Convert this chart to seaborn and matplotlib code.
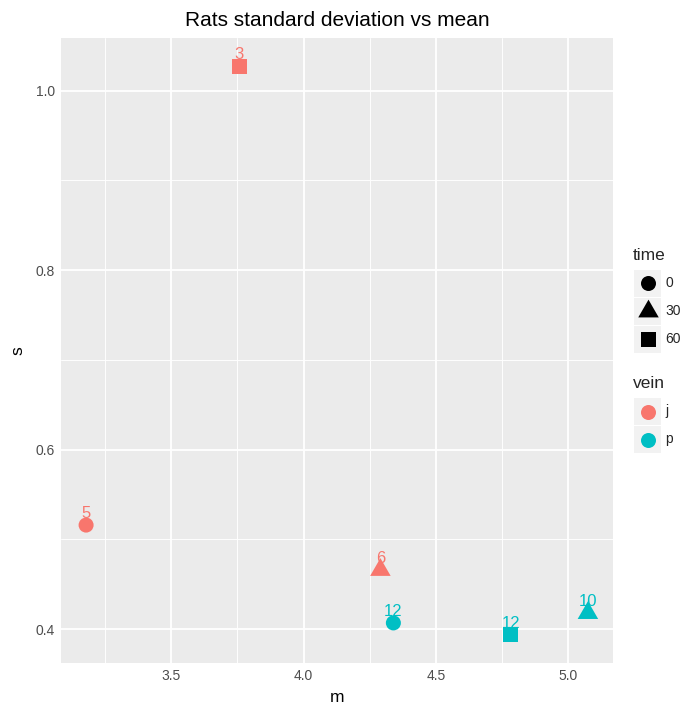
import matplotlib
matplotlib.use("Agg")
import matplotlib.pyplot as plt
from matplotlib.lines import Line2D
from matplotlib.patches import Rectangle
import seaborn as sns
import pandas as pd

# Group summaries: mean (m) and standard deviation (s) per vein/time, with group size n
vein = ["j", "j", "j", "p", "p", "p"]
time = [0, 30, 60, 0, 30, 60]
m = [3.178, 4.290, 3.757, 4.339, 5.074, 4.783]
s = [0.516, 0.466, 1.027, 0.407, 0.418, 0.394]
n = [5, 6, 3, 12, 10, 12]

vein_levels = ["j", "p"]
time_levels = [0, 30, 60]
vein_colors = {"j": "#F8766D", "p": "#00BFC4"}

df = pd.DataFrame({"vein": vein, "time": time, "m": m, "s": s, "n": n})

sns.set_style("white")
plt.rcParams["font.family"] = ["Liberation Sans", "DejaVu Sans"]

W, H = 694, 704
fig = plt.figure(figsize=(W / 100, H / 100), dpi=100)
L, R, T, B = 61, 613, 38, 663
ax = fig.add_axes([L / W, 1 - B / H, (R - L) / W, (B - T) / H])

tri = [(0, 1), (-0.866, -0.5), (0.866, -0.5)]
shape_map = {0: "o", 30: tri, 60: "s"}
size_map = {0: 117, 30: 291, 60: 117}

sns.scatterplot(data=df, x="m", y="s", hue="vein", style="time", size="time",
                palette=vein_colors, markers=shape_map, sizes=size_map,
                hue_order=vein_levels, style_order=time_levels, size_order=time_levels,
                linewidth=0, legend=False, ax=ax, zorder=3)

for xi, yi, ni, vi in zip(m, s, n, vein):
    ax.annotate(str(ni), (xi, yi), xytext=(0, 5), textcoords="offset points",
                ha="center", va="baseline", color=vein_colors[vi], fontsize=12, zorder=4)

ax.margins(0.05)
ax.set_facecolor("#EBEBEB")
for sp in ax.spines.values():
    sp.set_visible(False)

ax.set_xticks([3.5, 4.0, 4.5, 5.0])
ax.set_xticks([3.25, 3.75, 4.25, 4.75], minor=True)
ax.set_yticks([0.4, 0.6, 0.8, 1.0])
ax.set_yticks([0.5, 0.7, 0.9], minor=True)
ax.set_xticklabels(["3.5", "4.0", "4.5", "5.0"])
ax.set_yticklabels(["0.4", "0.6", "0.8", "1.0"])
ax.grid(True, which="major", color="white", linewidth=1.3)
ax.grid(True, which="minor", color="white", linewidth=0.65)
ax.set_axisbelow(True)
ax.tick_params(which="major", length=2.9, width=0.8, color="#333333",
               labelsize=10, labelcolor="#4D4D4D", pad=1.5)
ax.tick_params(which="minor", length=0)

ax.set_xlabel("m", fontsize=12.5, color="black")
ax.set_ylabel("s", fontsize=12.5, color="black")
ax.xaxis.set_label_coords(0.5, (B - 697) / (B - T))
ax.xaxis.label.set_va("center")
ax.yaxis.set_label_coords((18 - L) / (R - L), 0.5)
ax.yaxis.label.set_va("center")
ax.yaxis.label.set_ha("center")

fig.text((L + R) / 2 / W, 1 - 20 / H, "Rats standard deviation vs mean",
         ha="center", va="center", fontsize=15, color="black")


def fx(px):
    return px / W


def fy(py):
    return 1 - py / H


# Legends
key_x0, key_w, key_h = 634, 27, 27
fig.text(fx(633), fy(256), "time", ha="left", va="center", fontsize=12.5)
time_key_tops = [269.5, 297.5, 325.5]
time_ms = {0: 10.8, 30: 17.05, 60: 10.8}
for lvl, top in zip(time_levels, time_key_tops):
    fig.add_artist(Rectangle((fx(key_x0), fy(top + key_h)), key_w / W, key_h / H,
                             transform=fig.transFigure, facecolor="#F2F2F2",
                             edgecolor="none"))
    cy = top + key_h / 2
    fig.add_artist(Line2D([fx(key_x0 + key_w / 2)], [fy(cy)], marker=shape_map[lvl],
                          markersize=time_ms[lvl], color="black", linestyle="none",
                          markeredgewidth=0, transform=fig.transFigure))
    fig.text(fx(665), fy(cy), str(lvl), ha="left", va="center", fontsize=10)

fig.text(fx(633), fy(384), "vein", ha="left", va="center", fontsize=12.5)
vein_key_tops = [398, 426]
for lvl, top in zip(vein_levels, vein_key_tops):
    fig.add_artist(Rectangle((fx(key_x0), fy(top + key_h)), key_w / W, key_h / H,
                             transform=fig.transFigure, facecolor="#F2F2F2",
                             edgecolor="none"))
    cy = top + key_h / 2
    fig.add_artist(Line2D([fx(key_x0 + key_w / 2)], [fy(cy)], marker="o",
                          markersize=10.8, color=vein_colors[lvl], linestyle="none",
                          markeredgewidth=0, transform=fig.transFigure))
    fig.text(fx(665), fy(cy), lvl, ha="left", va="center", fontsize=10)

fig.savefig("out.png", dpi=100, facecolor="white")
